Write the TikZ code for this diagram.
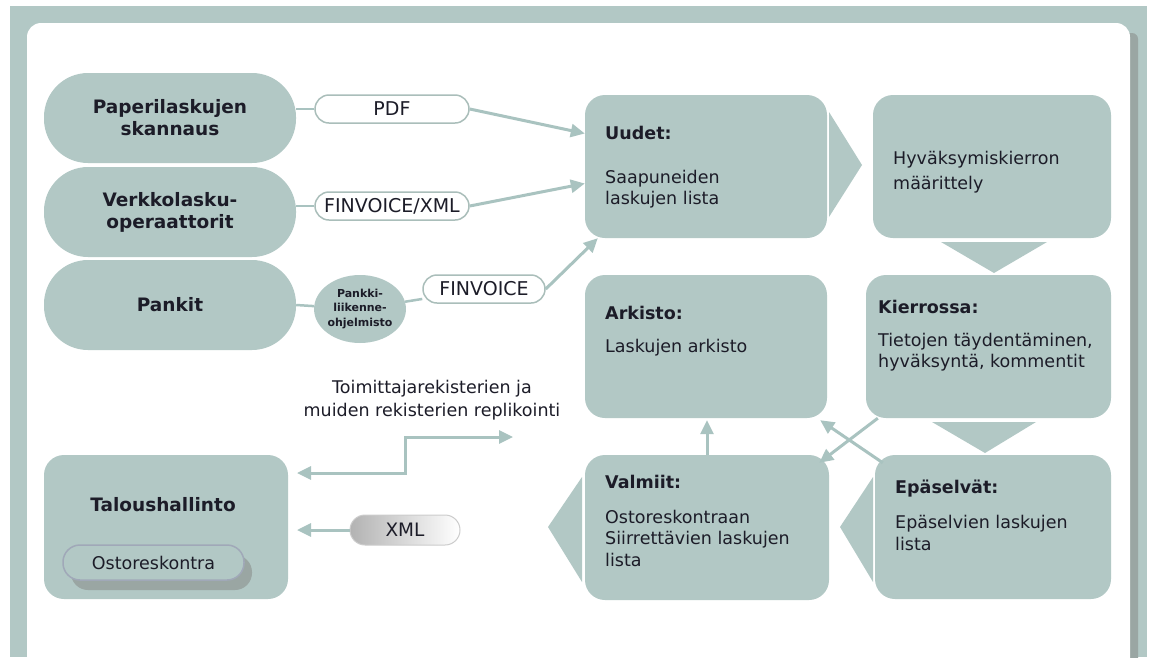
\documentclass[tikz,border=0pt]{standalone}
\usepackage{fontspec}
\setmainfont{DejaVu Sans}
\usetikzlibrary{arrows.meta,shapes.geometric,shadows}

\definecolor{tealgray}{RGB}{178,200,197}
\definecolor{linegray}{RGB}{169,195,192}
\definecolor{shadegray}{RGB}{154,166,163}
\definecolor{pillline}{RGB}{170,190,186}
\definecolor{pillborder}{RGB}{160,168,184}
\definecolor{ink}{RGB}{28,28,40}

\tikzset{
  srcpill/.style={fill=tealgray, rounded corners=44pt, minimum width=252pt, minimum height=90pt,
    inner sep=0pt, align=center, font=\fontsize{18.5}{22}\selectfont\bfseries},
  fmtpill/.style={fill=white, draw=pillline, line width=1.5pt, rounded corners=14pt,
    minimum height=28pt, inner sep=0pt, font=\fontsize{19}{22}\selectfont},
  stagebox/.style={fill=tealgray, rounded corners=20pt, inner sep=0pt},
  boxtext/.style={anchor=north west, inner sep=0pt, align=left, font=\fontsize{17.5}{21.7}\selectfont},
  flow/.style={draw=linegray, line width=3pt, -{Triangle[length=14pt,width=13pt]}},
  flowboth/.style={draw=linegray, line width=3pt, {Triangle[length=14pt,width=13pt]}-{Triangle[length=14pt,width=13pt]}},
  link/.style={draw=linegray, line width=2.5pt},
}

\begin{document}
\begin{tikzpicture}[x=1pt,y=-1pt, every node/.append style={text=ink}]
\useasboundingbox (0,0) rectangle (1149,657);

% frame
\fill[tealgray] (10,6) rectangle (1147,657);
\fill[shadegray, rounded corners=6pt] (1120,33) rectangle (1138,700);
\fill[white, rounded corners=14pt] (27,23) rectangle (1130,700);

% sources
\node[srcpill] (paper) at (170,118) {Paperilaskujen\\skannaus};
\node[srcpill] (verkko) at (170,212) {Verkkolasku-\\operaattorit};
\node[srcpill] (pankit) at (170,305) {Pankit};

\node[fmtpill, minimum width=154pt] (pdf) at (392,109) {PDF};
\node[fmtpill, minimum width=154pt] (fxml) at (392,206) {FINVOICE/XML};
\node[ellipse, fill=tealgray, minimum width=88pt, minimum height=68pt, inner sep=0pt, align=center,
  font=\fontsize{11}{14.5}\selectfont\bfseries] (pankki) at (360,309) {Pankki-\\liikenne-\\ohjelmisto};
\node[fmtpill, minimum width=122pt] (finv) at (484,289) {FINVOICE};

% process boxes
\node[stagebox, minimum width=242pt, minimum height=143pt] (uudet) at (706,166.5) {};
\node[stagebox, minimum width=238pt, minimum height=143pt] (hyv) at (992,166.5) {};
\node[stagebox, minimum width=242pt, minimum height=143pt] (arkisto) at (706,346.5) {};
\node[stagebox, minimum width=245pt, minimum height=143pt] (kierrossa) at (988.5,346.5) {};
\node[stagebox, minimum width=244pt, minimum height=145pt] (valmiit) at (707,527.5) {};
\node[stagebox, minimum width=236pt, minimum height=144pt] (epaselvat) at (993,527) {};

\fill[tealgray] (829,112) -- (862,165) -- (829,217) -- cycle;
\fill[tealgray] (941,242) -- (1047,242) -- (994,273) -- cycle;
\fill[tealgray] (932,422) -- (1036,422) -- (985,453) -- cycle;
\fill[tealgray] (582,477) -- (548,527) -- (582,582) -- cycle;
\fill[tealgray] (873,477) -- (840,527) -- (873,582) -- cycle;

\node[boxtext] (uudetT) at (605,126) {\textbf{Uudet:}\\[22pt]Saapuneiden\\laskujen lista};
\node[boxtext] (hyvT) at (893,151) {Hyväksymiskierron\\[3pt]määrittely};
\node[boxtext] (arkistoT) at (605,306) {\textbf{Arkisto:}\\[11pt]Laskujen arkisto};
\node[boxtext] (kierrT) at (878,300) {\textbf{Kierrossa:}\\[11pt]Tietojen täydentäminen,\\hyväksyntä, kommentit};
\node[boxtext] (valmiitT) at (605,475) {\textbf{Valmiit:}\\[13pt]Ostoreskontraan\\Siirrettävien laskujen\\lista};
\node[boxtext] (epaT) at (895,480) {\textbf{Epäselvät:}\\[13pt]Epäselvien laskujen\\lista};

% accounting
\node[stagebox, minimum width=244pt, minimum height=144pt] (talous) at (166,527) {};
\node[inner sep=0pt, font=\fontsize{18.5}{22}\selectfont\bfseries] (talousT) at (163,505) {Taloushallinto};
\node[fill=tealgray, draw=pillborder, line width=1.5pt, rounded corners=17pt, minimum width=181pt,
  minimum height=35pt, inner sep=0pt, font=\fontsize{17.5}{21}\selectfont,
  drop shadow={shadow xshift=8pt, shadow yshift=-10pt, fill=shadegray, opacity=1}] (ostores) at (153.5,562.5) {Ostoreskontra};

\node[draw=black!20, line width=1pt, rounded corners=15pt, left color=black!30, right color=white,
  minimum width=110pt, minimum height=30pt, inner sep=0pt, font=\fontsize{18.5}{22}\selectfont] (xml) at (405,530) {XML};
\node[inner sep=0pt, align=center, font=\fontsize{17.5}{23.4}\selectfont] (replbl) at (432,400)
  {Toimittajarekisterien ja\\muiden rekisterien replikointi};

\coordinate (talR) at (297,527);
\coordinate (repL) at (297,473);
\coordinate (repM) at (405,455);
\coordinate (repR) at (513,437);

% connectors
\draw[link] (pdf.west -| paper.east) -- (pdf.west);
\draw[link] (fxml.west -| verkko.east) -- (fxml.west);
\draw[link] (pankit.east) -- (pankki);
\draw[link] (pankki) -- (finv);

\draw[flow] (pdf.east) -- ([yshift=33pt]uudet.west);
\draw[flow] (fxml.east) -- ([yshift=-17pt]uudet.west);
\draw[flow] (finv.east) -- ([xshift=13pt]uudet.south west);

\draw[flow, shorten >=2pt] (valmiit.north) -- (valmiit.north |- arkisto.south);
\draw[flow] ([xshift=12pt]kierrossa.south west) -- ([xshift=-10pt,yshift=-8pt]valmiit.north east);
\draw[flow] ([xshift=8pt,yshift=-8pt]epaselvat.north west) -- ([xshift=-7pt,yshift=-2pt]arkisto.south east);

\draw[flow] (xml.west) -- (xml.west -| talR);
\draw[flowboth] (repL) -| (repM) |- (repR);
\end{tikzpicture}
\end{document}
